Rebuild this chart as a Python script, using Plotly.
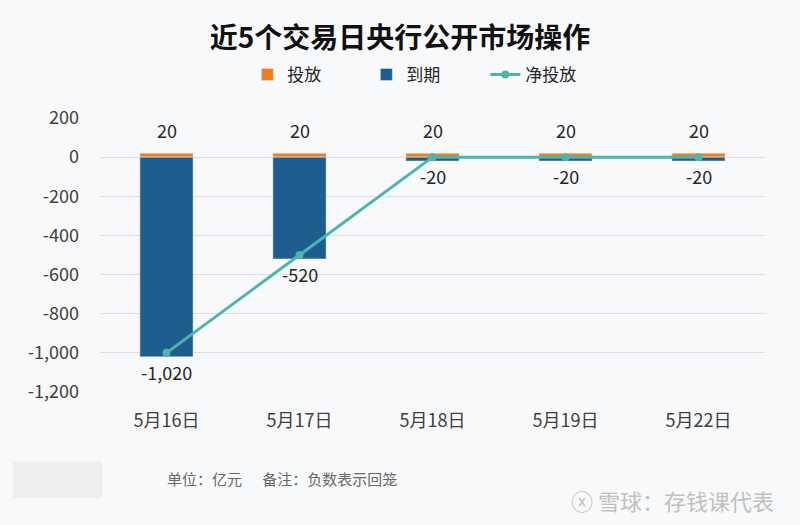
import plotly.graph_objects as go

categories = ["5月16日", "5月17日", "5月18日", "5月19日", "5月22日"]
issue = [20, 20, 20, 20, 20]
maturity = [-1020, -520, -20, -20, -20]
net = [-1000, -500, 0, 0, 0]
y_ticks = [200, 0, -200, -400, -600, -800, -1000, -1200]

FONT = "Noto Sans CJK SC, Open Sans, sans-serif"
ORANGE = "#F07D1E"
BLUE = "#1D5E8E"
TEAL = "#4DB5AE"
BG = "#F8F9FB"

fig = go.Figure()
fig.add_trace(go.Bar(x=categories, y=issue, name="投放", marker_color=ORANGE,
                     width=0.4, hoverinfo="skip"))
fig.add_trace(go.Bar(x=categories, y=maturity, name="到期", marker_color=BLUE,
                     width=0.4, hoverinfo="skip"))
fig.add_trace(go.Scatter(x=categories, y=net, name="净投放", mode="lines+markers",
                         line=dict(color=TEAL, width=3),
                         marker=dict(size=8, color=TEAL)))

# data labels
for c, v in zip(categories, issue):
    fig.add_annotation(x=c, y=v, text=f"{v:,}", showarrow=False, yanchor="bottom",
                       yshift=8, font=dict(size=18, color="#262626", family=FONT))
for c, v in zip(categories, maturity):
    fig.add_annotation(x=c, y=v, text=f"{v:,}", showarrow=False, yanchor="top",
                       yshift=0, font=dict(size=18, color="#262626", family=FONT))

fig.update_layout(
    width=800, height=525,
    barmode="relative",
    paper_bgcolor=BG, plot_bgcolor=BG,
    margin=dict(l=100, r=35, t=118, b=133),
    font=dict(family=FONT, color="#404040"),
    title=dict(text="<b>近5个交易日央行公开市场操作</b>", x=0.5, xanchor="center",
               y=0.928, yanchor="middle", font=dict(size=28, color="#111111", family=FONT)),
    legend=dict(orientation="h", x=0.49, xanchor="center", y=1.157, yanchor="middle",
                font=dict(size=17, color="#262626", family=FONT),
                entrywidth=74, traceorder="normal", bgcolor="rgba(0,0,0,0)"),
    showlegend=True,
)
fig.update_xaxes(showgrid=False, showline=False, ticks="",
                 tickfont=dict(size=18, color="#404040", family=FONT),
                 ticklabelstandoff=16)
fig.update_yaxes(range=[-1200, 200], tickvals=y_ticks,
                 ticktext=[f"{v:,}" for v in y_ticks],
                 showgrid=True, gridcolor="#DCDFE3", gridwidth=1,
                 zeroline=True, zerolinecolor="#DCDFE3", zerolinewidth=1,
                 tickfont=dict(size=18, color="#404040", family=FONT),
                 ticklabelstandoff=20)

# footer
fig.add_shape(type="rect", xref="paper", yref="paper",
              x0=-0.131, x1=0.003, y0=-0.255, y1=-0.387,
              fillcolor="#EEEFF1", line=dict(width=0), layer="below")
fig.add_annotation(text="单位：亿元&nbsp;&nbsp;&nbsp;&nbsp;&nbsp;&nbsp;备注：负数表示回笼",
                   xref="paper", yref="paper", x=0.098, y=-0.314, xanchor="left",
                   yanchor="middle", showarrow=False,
                   font=dict(size=15, color="#6A6A6A", family=FONT))
fig.add_annotation(text="ⓧ 雪球：存钱课代表", xref="paper", yref="paper",
                   x=1.016, y=-0.394, xanchor="right", yanchor="middle", showarrow=False,
                   font=dict(size=22, color="#C0C0C0", family=FONT))

fig.write_html("out.html")
